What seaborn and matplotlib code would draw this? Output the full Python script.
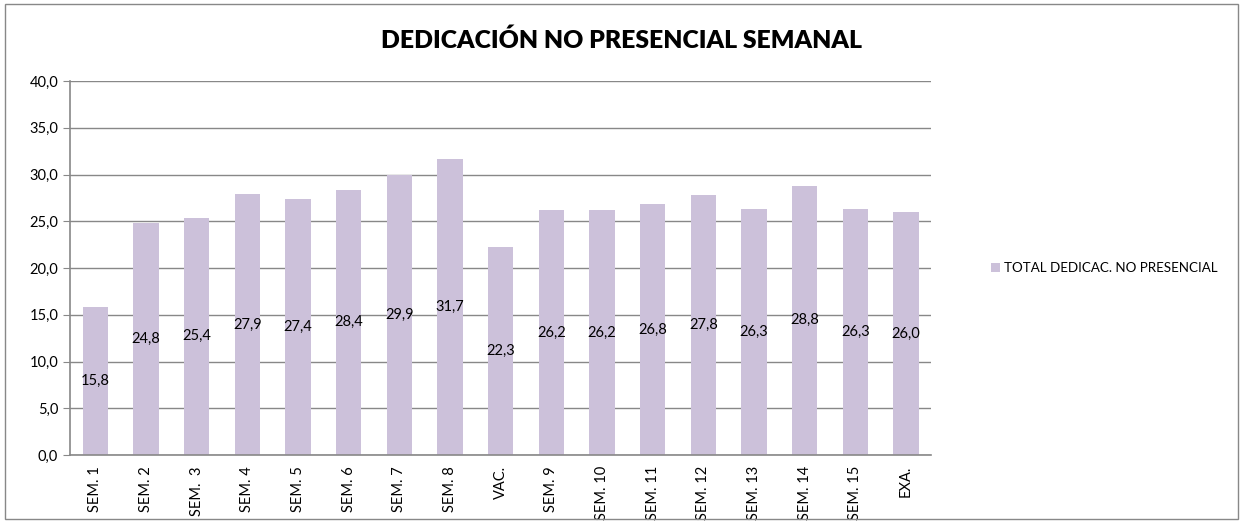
import pandas as pd
import numpy as np
import matplotlib
matplotlib.use("Agg")
import matplotlib.pyplot as plt
import seaborn as sns

# datos
semanas = ["SEM. 1", "SEM. 2", "SEM.  3", "SEM. 4", "SEM. 5", "SEM. 6", "SEM. 7", "SEM. 8",
           "VAC.", "SEM. 9", "SEM. 10", "SEM. 11", "SEM. 12", "SEM. 13", "SEM. 14", "SEM. 15", "EXA."]
dedicacion = [15.8, 24.8, 25.4, 27.9, 27.4, 28.4, 29.9, 31.7,
              22.3, 26.2, 26.2, 26.8, 27.8, 26.3, 28.8, 26.3, 26.0]
serie = "TOTAL DEDICAC. NO PRESENCIAL"

df = pd.DataFrame({"Semana": semanas, "Horas": dedicacion})

sns.set_style("white")
plt.rcParams["font.family"] = ["Lato", "DejaVu Sans"]
plt.rcParams["text.color"] = "black"
plt.rcParams["xtick.color"] = "black"
plt.rcParams["ytick.color"] = "black"

fig = plt.figure(figsize=(12.43, 5.23), dpi=100)
ax = fig.add_axes([0.0563, 0.130, 0.693, 0.715])

sns.barplot(x="Semana", y="Horas", data=df, color="#CCC1DA", width=0.5,
            saturation=1, label=serie, linewidth=0, ax=ax)

# etiquetas en el centro de cada barra
for i, v in enumerate(dedicacion):
    ax.text(i, v / 2, f"{v:.1f}".replace(".", ","), ha="center", va="center",
            fontsize=10.5, color="black")

ax.set_ylim(0, 40)
ax.set_xlim(-0.5, len(semanas) - 0.5)
ax.set_yticks(np.arange(0, 40.1, 5))
ax.set_yticklabels([f"{t:.1f}".replace(".", ",") for t in np.arange(0, 40.1, 5)], fontsize=10.5)
ax.set_xticks(range(len(semanas)))
ax.set_xticklabels(semanas, rotation=90, fontsize=10.5)
ax.tick_params(axis="x", length=0, pad=8, colors="black")
ax.set_xticks(np.arange(-0.5, len(semanas)), minor=True)
ax.tick_params(axis="x", which="minor", length=5, color="#888888", direction="out")
ax.tick_params(axis="y", length=5, color="#888888", labelcolor="black", direction="out", left=True)
ax.set_xlabel("")
ax.set_ylabel("")
ax.grid(axis="y", color="#888888", linewidth=1)
ax.set_axisbelow(True)
for s in ["top", "right"]:
    ax.spines[s].set_visible(False)
for s in ["left", "bottom"]:
    ax.spines[s].set_color("#888888")
    ax.spines[s].set_linewidth(1.2)

fig.suptitle("DEDICACIÓN NO PRESENCIAL SEMANAL", fontsize=17.8, fontweight="heavy",
             color="black", x=0.50, y=0.945)

ax.legend(loc="center left", bbox_to_anchor=(1.055, 0.5), frameon=False,
          fontsize=9.6, handlelength=0.7, handleheight=0.7, handletextpad=0.3,
          labelcolor="black")

# borde del grafico
fig.patches.append(plt.Rectangle((0.004, 0.008), 0.992, 0.984, transform=fig.transFigure,
                                 fill=False, edgecolor="#888888", linewidth=1))

plt.savefig("out.png", dpi=100)
